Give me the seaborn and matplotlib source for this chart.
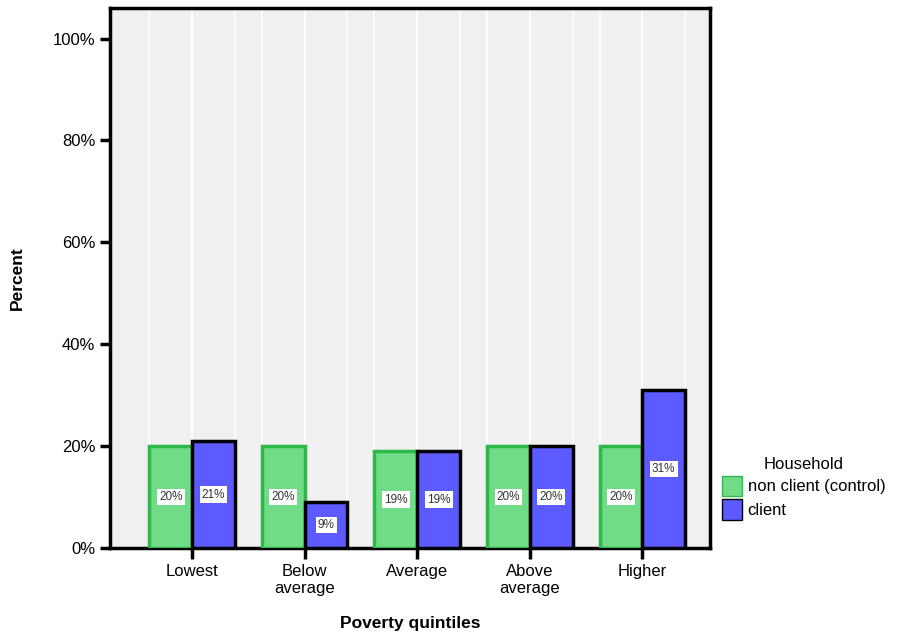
import numpy as np
import pandas as pd
import matplotlib
matplotlib.use("Agg")
import matplotlib.pyplot as plt
import seaborn as sns

# Data (percent of households per group)
quintiles = ["Lowest", "Below\naverage", "Average", "Above\naverage", "Higher"]
non_client = [20, 20, 19, 20, 20]
client = [21, 9, 19, 20, 31]
groups = ["non client (control)", "client"]

df = pd.DataFrame({
    "quintile": quintiles * 2,
    "percent": non_client + client,
    "household": [groups[0]] * len(quintiles) + [groups[1]] * len(quintiles),
})

sns.set_style("white")
plt.rcParams["font.family"] = ["Liberation Sans", "DejaVu Sans"]
plt.rcParams["text.color"] = "black"
plt.rcParams["axes.labelcolor"] = "black"
plt.rcParams["xtick.color"] = "black"
plt.rcParams["ytick.color"] = "black"

fig = plt.figure(figsize=(8.98, 6.32), dpi=100)
ax = fig.add_axes([0.1225, 0.1329, 0.668, 0.8544])
ax.set_facecolor("#f0f0f0")

palette = {groups[0]: "#70dc88", groups[1]: "#5b5bff"}
sns.barplot(data=df, x="quintile", y="percent", hue="household",
            palette=palette, width=0.76, saturation=1, ax=ax, legend=False,
            zorder=3)

# edges: green outline for control, black for clients
n = len(quintiles)
for i, p in enumerate(ax.patches[:2 * n]):
    if i < n:
        p.set_edgecolor("#2fb84a")
    else:
        p.set_edgecolor("black")
    p.set_linewidth(2.5)
    # white vertical grid lines along the bar edges
    ax.axvline(p.get_x(), color="white", lw=1.2, zorder=1)
    ax.axvline(p.get_x() + p.get_width(), color="white", lw=1.2, zorder=1)

for cont in ax.containers:
    ax.bar_label(cont, labels=[f"{v:.0f}%" for v in cont.datavalues],
                 label_type="center", fontsize=8.5, color="#333333",
                 bbox=dict(facecolor="white", edgecolor="none", pad=1.5))

ax.set_xlim(-0.73, 4.6)
ax.set_ylim(0, 106)
ax.set_yticks([0, 20, 40, 60, 80, 100])
ax.set_yticklabels([f"{t}%" for t in [0, 20, 40, 60, 80, 100]], fontsize=12)
ax.tick_params(axis="x", labelsize=12, length=8, width=2.5, direction="out",
               bottom=True, color="black")
ax.tick_params(axis="y", length=7, width=2.5, direction="out", left=True,
               color="black")

for s in ax.spines.values():
    s.set_visible(True)
    s.set_color("black")
    s.set_linewidth(2.5)

ax.set_xlabel("Poverty quintiles", fontsize=12.5, fontweight="bold", labelpad=14)
ax.set_ylabel("Percent", fontsize=12.5, fontweight="bold", labelpad=20)

handles = [plt.Rectangle((0, 0), 1, 1, facecolor=palette[g],
                         edgecolor="#2fb84a" if g == groups[0] else "black",
                         lw=1) for g in groups]
leg = ax.legend(handles, groups, title="Household", loc="center left",
                bbox_to_anchor=(0.995, 0.11), frameon=False, fontsize=12,
                title_fontsize=12, handlelength=1.2, handleheight=1.5,
                handletextpad=0.35, labelspacing=0.2)

fig.savefig("out.png", dpi=100)
